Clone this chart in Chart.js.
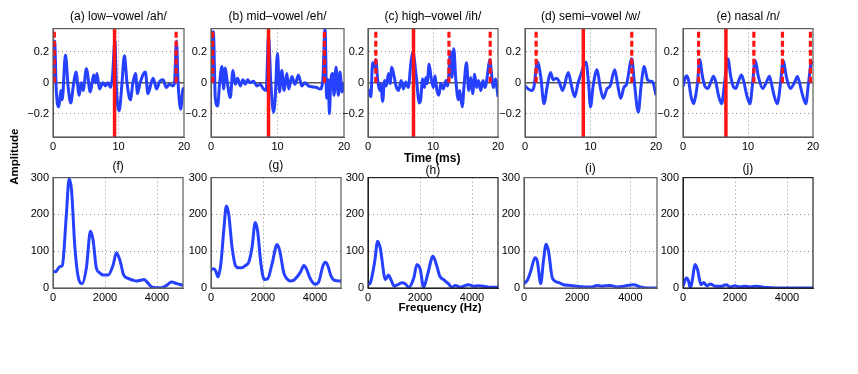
<!DOCTYPE html>
<html>
<head>
<meta charset="utf-8">
<script src="https://cdn.jsdelivr.net/npm/chart.js@4.4.0/dist/chart.umd.min.js"></script>
<style>
  body { margin: 0; background: #fff; width: 858px; height: 374px; position: relative; overflow: hidden;
         font-family: "Liberation Sans", Arial, sans-serif; }
  .panel { position: absolute; }
  .txt { position: absolute; color: #000; white-space: nowrap; text-align: center; }
</style>
</head>
<body>
<script>
// ---- tick labels ----
const TIME_TICKS = [0, 10, 20];
const TIME_LABELS = ['0', '10', '20'];
const AMP_TICKS = [-0.2, 0, 0.2];
const AMP_LABELS = ['\u22120.2', '0', '0.2'];
const FREQ_TICKS = [0, 2000, 4000];
const FREQ_LABELS = ['0', '2000', '4000'];
const MAG_TICKS = [0, 100, 200, 300];
const MAG_LABELS = ['0', '100', '200', '300'];

const TOP_TITLES = ['(a) low\u2013vowel /ah/', '(b) mid\u2013vowel /eh/', '(c) high\u2013vowel /ih/',
                    '(d) semi\u2013vowel /w/', '(e) nasal /n/'];
const BOTTOM_TITLES = ['(f)', '(g)', '(h)', '(i)', '(j)'];

// ---- waveforms: [time ms, amplitude] ----
const waveA = [[0,0.03],[0.25,0.27],[0.5,-0.05],[0.9,-0.155],[1.2,-0.05],[1.4,-0.11],[1.9,0.18],[2.3,-0.02],
  [2.7,-0.13],[3.1,-0.02],[3.5,0.07],[4.0,-0.08],[4.3,0.0],[4.6,-0.05],[5.1,0.09],[5.7,-0.06],[6.2,0.05],
  [6.5,0.0],[6.7,0.06],[7.1,-0.04],[7.6,0.0],[8.0,-0.02],[8.4,0.0],[8.8,-0.03],[9.1,0.05],[9.45,0.27],
  [9.7,-0.05],[10.1,-0.18],[10.5,-0.02],[10.9,0.175],[11.3,0.0],[11.8,-0.11],[12.2,0.0],[12.6,0.06],
  [12.9,-0.07],[13.3,0.0],[14.1,0.07],[14.5,-0.07],[15.0,0.0],[15.3,0.03],[15.8,-0.04],[16.3,0.01],
  [16.8,0.02],[17.3,-0.03],[17.8,-0.01],[18.3,-0.02],[18.55,0.0],[18.85,0.27],[19.1,0.0],[19.5,-0.17],
  [19.8,-0.05],[20,-0.03]];
const waveB = [[0,0.0],[0.35,0.33],[0.65,-0.1],[1.0,-0.15],[1.3,0.0],[1.65,0.105],[1.9,-0.04],[2.15,0.095],
  [2.4,0.02],[2.9,-0.095],[3.3,0.08],[3.65,-0.01],[4.0,0.03],[4.4,-0.02],[4.8,0.02],[5.15,-0.01],[5.5,0.02],
  [5.9,0.0],[6.4,0.01],[6.9,-0.02],[7.4,-0.01],[7.9,-0.04],[8.3,-0.05],[8.65,0.3],[9.0,0.0],[9.4,-0.19],
  [9.65,-0.1],[10.0,0.19],[10.3,-0.06],[10.65,0.08],[11.0,-0.05],[11.4,0.06],[11.7,-0.04],[12.15,0.04],
  [12.65,-0.01],[13.15,0.05],[13.65,-0.02],[14.15,0.0],[14.65,-0.02],[15.15,-0.025],[15.9,-0.03],
  [16.4,-0.04],[16.8,0.01],[17.15,0.35],[17.4,-0.1],[17.65,0.02],[17.8,-0.2],[18.0,0.0],[18.3,0.06],
  [18.5,-0.08],[18.8,0.1],[19.15,-0.08],[19.4,0.07],[19.7,-0.06],[20,0.0]];
const waveC = [[0,-0.04],[0.45,-0.09],[0.7,0.13],[0.95,0.1],[1.2,0.15],[1.5,0.015],[1.8,-0.05],[2.0,-0.01],
  [2.25,-0.12],[2.55,0.015],[2.8,-0.02],[3.15,0.06],[3.4,-0.005],[3.65,0.1],[4.0,0.045],[4.3,-0.02],
  [4.7,-0.05],[5.1,0.015],[5.45,-0.04],[5.8,0.005],[6.2,-0.03],[6.6,0.13],[6.9,0.2],[7.4,0.05],[7.9,-0.13],
  [8.1,-0.11],[8.4,0.025],[8.7,-0.03],[8.9,0.035],[9.1,-0.005],[9.4,0.12],[9.7,0.035],[10.05,-0.03],
  [10.3,0.045],[10.6,-0.05],[10.9,-0.08],[11.2,-0.005],[11.6,-0.04],[12.0,0.015],[12.25,-0.02],[12.7,0.2],
  [12.9,0.035],[13.2,0.22],[13.5,0.025],[13.9,-0.11],[14.1,-0.05],[14.5,-0.155],[14.8,-0.005],[15.15,0.13],
  [15.5,-0.05],[15.8,0.035],[16.1,-0.07],[16.4,0.055],[16.7,-0.03],[17.0,0.015],[17.35,-0.05],[17.7,0.015],
  [18.0,-0.03],[18.8,0.15],[18.95,0.08],[19.3,-0.03],[19.6,0.025],[20,-0.09]];
const waveD = [[0,-0.02],[0.5,-0.04],[1.0,-0.05],[1.35,-0.03],[1.9,0.135],[2.4,0.04],[2.9,-0.135],[3.4,-0.02],
  [3.9,0.067],[4.3,0.02],[4.8,0.03],[5.2,0.01],[5.75,-0.05],[6.6,0.067],[7.1,-0.02],[7.6,-0.09],[8.1,0.0],
  [8.5,0.05],[9.3,0.135],[9.7,0.0],[10.0,-0.155],[10.4,-0.02],[11.0,0.085],[11.45,-0.02],[11.95,-0.1],
  [12.5,-0.04],[13.0,-0.02],[13.7,0.085],[14.1,0.0],[14.6,-0.1],[15.1,-0.03],[15.5,-0.01],[16.3,0.155],
  [16.7,0.0],[17.3,-0.19],[17.7,-0.03],[18.2,0.105],[18.7,0.02],[19.1,0.01],[19.5,0.005],[20,-0.08]];
const waveE = [[0,-0.025],[0.5,0.045],[0.85,0.017],[1.2,-0.08],[1.65,-0.135],[2.0,-0.07],[2.25,0.006],
  [2.55,0.15],[3.0,0.04],[3.4,-0.025],[3.8,-0.037],[4.3,0.006],[4.7,0.043],[5.05,0.006],[5.45,-0.08],
  [5.95,-0.135],[6.4,0.0],[6.9,0.155],[7.35,0.04],[7.75,-0.025],[8.1,-0.037],[8.6,0.017],[9.0,0.05],
  [9.4,0.0],[9.8,-0.08],[10.3,-0.135],[10.7,-0.004],[11.1,0.145],[11.6,0.04],[12.25,-0.037],[12.85,0.006],
  [13.3,0.043],[13.6,-0.004],[14.0,-0.08],[14.5,-0.135],[15.0,-0.004],[15.4,0.145],[15.9,0.04],[16.5,-0.037],
  [17.2,0.006],[17.6,0.04],[17.95,-0.004],[18.4,-0.08],[18.9,-0.135],[19.3,-0.004],[19.8,0.135],[20,0.125]];

// ---- pitch marks (ms): solid centre mark, dashed neighbours ----
const centreMarks = [9.4, 8.65, 7.0, 8.9, 6.6];
const dashMarksA = [0.2, 18.8];
const dashMarksB = [0.25, 17.05];
const dashMarksC = [1.2, 12.45, 18.8];
const dashMarksD = [1.7, 16.3];
const dashMarksE = [2.4, 10.9, 15.3, 19.6];
const MARK_TOP = 0.33;

// ---- spectra: [frequency Hz, magnitude] ----
const specF = [[0,46],[100,44],[260,58],[360,62],[510,195],[620,297],[710,268],[840,112],[970,30],[1120,12],
  [1290,58],[1440,154],[1540,131],[1670,53],[1800,41],[1930,35],[2120,35],[2310,62],[2440,96],[2570,76],
  [2720,35],[2890,26],[3080,21],[3210,19],[3370,21],[3500,23],[3620,16],[3790,3],[3980,1],[4180,1],
  [4370,7],[4560,16],[4760,12],[5000,7]];
const specG = [[0,50],[100,52],[190,45],[270,30],[380,66],[490,156],[590,223],[680,201],[810,111],[940,61],
  [1060,55],[1190,55],[1320,61],[1450,70],[1580,111],[1700,178],[1790,156],[1920,66],[2050,23],[2180,25],
  [2350,66],[2540,118],[2640,102],[2800,41],[2920,25],[3050,19],[3180,21],[3440,43],[3570,61],[3670,52],
  [3820,25],[4010,10],[4140,16],[4310,61],[4400,70],[4490,61],[4620,32],[4740,21],[5000,19]];
const specH = [[0,9],[90,14],[260,73],[370,127],[470,109],[670,23],[790,35],[880,23],[1010,5],[1140,9],
  [1310,14],[1440,11],[1560,2],[1760,27],[1880,64],[2010,50],[2140,2],[2290,36],[2500,86],[2650,59],
  [2760,32],[2910,23],[3100,11],[3230,2],[3360,7],[3550,2],[3870,9],[4060,5],[4260,6],[4450,5],[4710,2],
  [5000,2]];
const specI = [[0,12],[125,21],[250,45],[415,82],[500,73],[630,12],[730,73],[830,119],[920,101],[1070,26],
  [1300,15],[1490,9],[1740,7],[1990,5],[2240,3],[2560,3],[2740,7],[2920,5],[3240,7],[3490,3],[3740,5],
  [4120,9],[4370,3],[4620,0],[5000,0]];
const specJ = [[0,5],[130,27],[220,18],[280,0],[340,14],[470,64],[560,50],[690,9],[790,15],[920,6],[1050,11],
  [1240,5],[1490,5],[1660,9],[1810,3],[2000,6],[2190,3],[2370,5],[2580,3],[2830,5],[3090,2],[3340,1],
  [3720,0],[5000,0]];

// ---- layout (plot areas in page pixels) ----
const PAD_L = 40, PAD_T = 10, PAD_R = 14, PAD_B = 22;
const BLUE = '#2640ff';
const RED = '#ff1414';
const FONT = '"Liberation Sans", Arial, sans-serif';

const topRow = [
  { left: 53, width: 131, wave: waveA, dashes: dashMarksA, frame: '#5a5a5a' },
  { left: 211, width: 133, wave: waveB, dashes: dashMarksB, frame: '#5a5a5a' },
  { left: 368, width: 130, wave: waveC, dashes: dashMarksC, frame: '#5a5a5a' },
  { left: 525, width: 131, wave: waveD, dashes: dashMarksD, frame: '#5a5a5a' },
  { left: 683, width: 130, wave: waveE, dashes: dashMarksE, frame: '#5a5a5a' }
];
const bottomRow = [
  { left: 53, width: 130, spec: specF, frame: '#5a5a5a', titleY: 166 },
  { left: 211, width: 130, spec: specG, frame: '#5a5a5a', titleY: 165 },
  { left: 368, width: 130, spec: specH, frame: '#222', titleY: 170 },
  { left: 524, width: 133, spec: specI, frame: '#5a5a5a', titleY: 168 },
  { left: 683, width: 130, spec: specJ, frame: '#222', titleY: 168 }
];
const TOP_Y = 28, TOP_H = 109;
const BOT_Y = 177, BOT_H = 111;

const framePlugin = {
  id: 'frame',
  afterDraw(chart, args, opts) {
    const { ctx, chartArea: a } = chart;
    ctx.save();
    ctx.strokeStyle = opts.color || '#555';
    ctx.lineWidth = 1.2;
    ctx.strokeRect(a.left, a.top, a.right - a.left, a.bottom - a.top);
    ctx.restore();
  }
};

function toPoints(pairs) {
  return pairs.map(p => ({ x: p[0], y: p[1] }));
}

function addText(text, cx, cy, size, bold, rotate) {
  const d = document.createElement('div');
  d.className = 'txt';
  d.textContent = text;
  d.style.font = (bold ? 'bold ' : '') + size + 'px ' + FONT;
  d.style.lineHeight = size + 'px';
  document.body.appendChild(d);
  const w = d.offsetWidth;
  d.style.left = (cx - w / 2) + 'px';
  d.style.top = (cy - size / 2) + 'px';
  if (rotate) d.style.transform = 'rotate(-90deg)';
}

function scaleOpts(ticks, labels, min, max, frame, vertical, zeroLine) {
  return {
    type: 'linear',
    min: min,
    max: max,
    afterBuildTicks: s => { s.ticks = ticks.map(v => ({ value: v })); },
    afterFit: s => { if (vertical) s.width = PAD_L; else s.height = PAD_B; },
    ticks: {
      color: '#000',
      font: { family: FONT, size: 11 },
      padding: vertical ? 4 : 3,
      maxRotation: 0,
      autoSkip: false,
      callback: v => labels[ticks.indexOf(v)]
    },
    grid: {
      drawTicks: false,
      color: c => {
        const v = c.tick ? c.tick.value : null;
        if (v === min || v === max) return 'rgba(0,0,0,0)';
        if (zeroLine && v === 0) return '#555';
        return '#8c8c8c';
      },
      lineWidth: c => (zeroLine && c.tick && c.tick.value === 0) ? 1.5 : 1
    },
    border: {
      color: frame,
      width: 1,
      dash: c => (zeroLine && c.tick && c.tick.value === 0) ? [] : [1, 3]
    }
  };
}

function makeChart(left, top, width, height, datasets, scales, frame) {
  const div = document.createElement('div');
  div.className = 'panel';
  const w = width + PAD_L + PAD_R, h = height + PAD_T + PAD_B;
  div.style.left = (left - PAD_L) + 'px';
  div.style.top = (top - PAD_T) + 'px';
  div.style.width = w + 'px';
  div.style.height = h + 'px';
  const canvas = document.createElement('canvas');
  canvas.width = w;
  canvas.height = h;
  canvas.style.width = w + 'px';
  canvas.style.height = h + 'px';
  div.appendChild(canvas);
  document.body.appendChild(div);
  return new Chart(canvas, {
    type: 'line',
    data: { datasets: datasets },
    options: {
      responsive: false,
      animation: false,
      layout: { padding: { top: PAD_T, right: PAD_R, left: 0, bottom: 0 } },
      elements: { point: { radius: 0 } },
      plugins: { legend: { display: false }, tooltip: { enabled: false }, frame: { color: frame } },
      scales: scales
    },
    plugins: [framePlugin]
  });
}

// top row: time waveforms
topRow.forEach((p, i) => {
  const sets = [];
  sets.push({
    data: [{ x: centreMarks[i], y: -0.35 }, { x: centreMarks[i], y: 0.35 }],
    borderColor: RED, borderWidth: 3.5, order: 1
  });
  p.dashes.forEach(t => {
    sets.push({
      data: [{ x: t, y: 0 }, { x: t, y: MARK_TOP }],
      borderColor: RED, borderWidth: 3.2, borderDash: [6, 3], borderCapStyle: 'butt', order: 1
    });
  });
  sets.push({
    data: toPoints(p.wave), borderColor: BLUE, borderWidth: 3,
    cubicInterpolationMode: 'monotone', order: 2
  });
  makeChart(p.left, TOP_Y, p.width, TOP_H, sets, {
    x: scaleOpts(TIME_TICKS, TIME_LABELS, 0, 20, p.frame, false, false),
    y: scaleOpts(AMP_TICKS, AMP_LABELS, -0.35, 0.35, p.frame, true, true)
  }, p.frame);
  addText(TOP_TITLES[i], p.left + p.width / 2, 16, 12, false, false);
});

// bottom row: spectra
bottomRow.forEach((p, i) => {
  const sets = [{
    data: toPoints(p.spec), borderColor: BLUE, borderWidth: 3,
    cubicInterpolationMode: 'monotone'
  }];
  makeChart(p.left, BOT_Y, p.width, BOT_H, sets, {
    x: scaleOpts(FREQ_TICKS, FREQ_LABELS, 0, 5000, p.frame, false, false),
    y: scaleOpts(MAG_TICKS, MAG_LABELS, 0, 300, p.frame, true, false)
  }, p.frame);
  addText(BOTTOM_TITLES[i], p.left + p.width / 2, p.titleY, 12, false, false);
});

addText('Time (ms)', 432, 158, 12, true, false);
addText('Frequency (Hz)', 440, 308, 11.5, true, false);
addText('Amplitude', 15, 157, 11.5, true, true);
</script>
</body>
</html>
